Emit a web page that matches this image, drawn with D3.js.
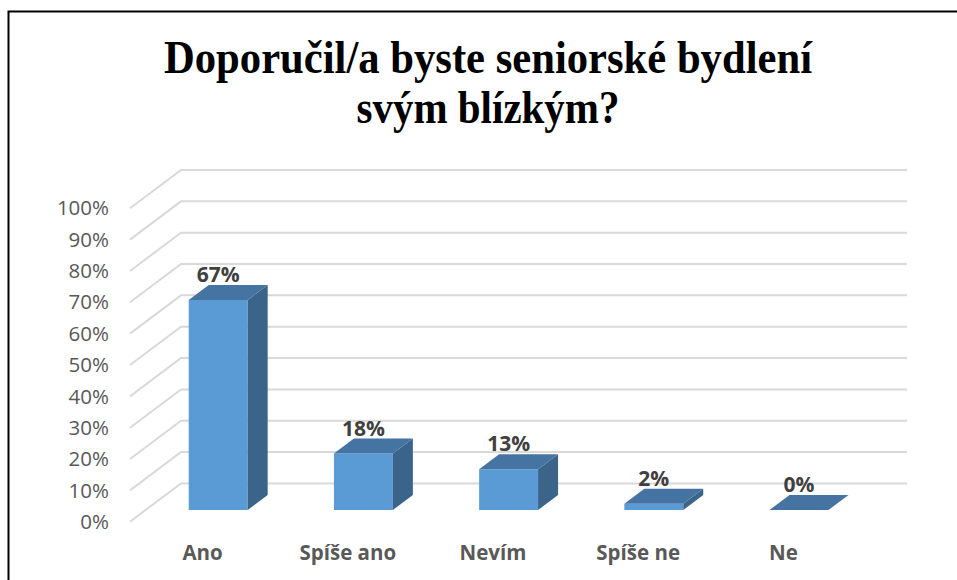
<!DOCTYPE html>
<html>
<head>
<meta charset="utf-8">
<script src="https://cdn.jsdelivr.net/npm/d3@7"></script>
<style>
  html, body { margin: 0; padding: 0; background: #fff; }
  svg { display: block; }
</style>
</head>
<body>
<svg id="chart" width="957" height="580"></svg>
<script>
const categories = ["Ano", "Spíše ano", "Nevím", "Spíše ne", "Ne"];
const values = [0.67, 0.18, 0.13, 0.02, 0.00];
const valueLabels = ["67%", "18%", "13%", "2%", "0%"];
const ticks = [0, 0.1, 0.2, 0.3, 0.4, 0.5, 0.6, 0.7, 0.8, 0.9, 1.0];
const titleLines = ["Doporučil/a byste seniorské bydlení", "svým blízkým?"];

const svg = d3.select("#chart");

// frame
svg.append("rect")
  .attr("x", 8.5).attr("y", 11.5)
  .attr("width", 1000).attr("height", 700)
  .attr("fill", "#fff").attr("stroke", "#000").attr("stroke-width", 2);

// title (condensed serif)
const titleLen = [648, 263];
titleLines.forEach((line, i) => {
  svg.append("text")
    .attr("x", 488)
    .attr("y", 73 + i * 50)
    .attr("text-anchor", "middle")
    .attr("font-family", "'Liberation Serif', 'Times New Roman', serif")
    .attr("font-weight", "bold")
    .attr("font-size", 46)
    .attr("fill", "#000")
    .attr("textLength", titleLen[i])
    .attr("lengthAdjust", "spacingAndGlyphs")
    .text(line);
});

// pseudo 3d: depth t in [0,1] shifts points by (DX*t, -DY*t)
const DX = 51, DY = 38.3;
const x = d3.scaleBand().domain(categories).range([130, 856]).padding(0);
const y = d3.scaleLinear().domain([0, 1]).range([521.7, 208.3]);
const P = (px, v, t) => [px + DX * t, y(v) - DY * t];

const barRatio = 0.406;
const t0 = 0.306, t1 = 0.698;

// gridlines: diagonal on the side wall + back wall line
const grid = svg.append("g")
  .attr("stroke", "#d9d9d9").attr("stroke-width", 2).attr("fill", "none");
ticks.forEach(v => {
  const a = P(130, v, 0), b = P(130, v, 1), c = P(856, v, 1);
  grid.append("polyline")
    .attr("points", [a, b, c].map(p => p.join(",")).join(" "));
});

// y tick labels
svg.append("g").selectAll("text")
  .data(ticks)
  .join("text")
  .attr("x", 109)
  .attr("y", d => y(d))
  .attr("dy", "0.35em")
  .attr("text-anchor", "end")
  .attr("font-family", "'Open Sans', sans-serif")
  .attr("font-size", 20.5)
  .attr("fill", "#595959")
  .text(d => d3.format(".0%")(d));

// bars
const bars = svg.append("g");
const pts = arr => arr.map(p => p.join(",")).join(" ");
categories.forEach((c, i) => {
  const v = values[i];
  const bw = x.bandwidth() * barRatio;
  const cx = x(c) + x.bandwidth() / 2;
  const xl = cx - bw / 2, xr = cx + bw / 2;
  const g = bars.append("g");
  if (v > 0) {
    // front face
    g.append("polygon")
      .attr("points", pts([P(xl, 0, t0), P(xr, 0, t0), P(xr, v, t0), P(xl, v, t0)]))
      .attr("fill", "#5b9bd5");
    // side face
    g.append("polygon")
      .attr("points", pts([P(xr, 0, t0), P(xr, 0, t1), P(xr, v, t1), P(xr, v, t0)]))
      .attr("fill", "#3a6489");
  }
  // top face
  g.append("polygon")
    .attr("points", pts([P(xl, v, t0), P(xr, v, t0), P(xr, v, t1), P(xl, v, t1)]))
    .attr("fill", "#4574a2");

  // value label
  const top = P(cx, v, t1);
  svg.append("text")
    .attr("x", P(cx, v, t0)[0])
    .attr("y", top[1] - 3)
    .attr("text-anchor", "middle")
    .attr("font-family", "'Open Sans', sans-serif")
    .attr("font-weight", "bold")
    .attr("font-size", 21)
    .attr("fill", "#404040")
    .text(valueLabels[i]);
});

// category labels
svg.append("g").selectAll("text")
  .data(categories)
  .join("text")
  .attr("x", d => x(d) + x.bandwidth() / 2)
  .attr("y", 560)
  .attr("text-anchor", "middle")
  .attr("font-family", "'Open Sans', sans-serif")
  .attr("font-weight", "bold")
  .attr("font-size", 20.5)
  .attr("fill", "#595959")
  .text(d => d);
</script>
</body>
</html>
